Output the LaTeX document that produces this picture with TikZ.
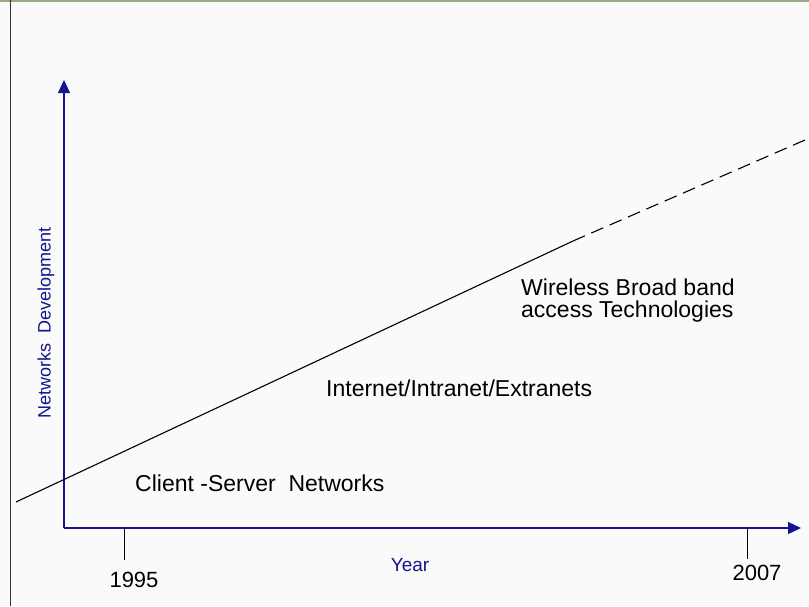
\documentclass[tikz,border=0pt]{standalone}
\usepackage{fontspec}
\setmainfont{Liberation Sans}
\usetikzlibrary{arrows.meta}
\definecolor{axisblue}{RGB}{20,20,140}
\definecolor{bg}{RGB}{250,250,250}
\definecolor{topline}{RGB}{150,170,130}
\tikzset{
  axis/.style={axisblue, line width=1.2pt, -{Triangle[length=13pt,width=12pt]}},
  tick/.style={black, line width=0.9pt},
  lbl/.style={font=\fontsize{23}{26}\selectfont, inner sep=0pt, anchor=west},
  yr/.style={font=\fontsize{22}{24}\selectfont, inner sep=0pt},
  bluelbl/.style={axisblue, font=\fontsize{18}{20}\selectfont, inner sep=0pt},
  trend/.style={black, line width=1.1pt},
}
\begin{document}
\begin{tikzpicture}[x=1pt,y=-1pt]
\useasboundingbox (0,0) rectangle (809,606);
\fill[bg] (0,0) rectangle (809,606);
\draw[topline, line width=1.5pt] (0,1) -- (809,1);
\draw[black!80, line width=1.5pt] (10.5,0) -- (10.5,606);
% axes
\coordinate (O) at (64,528);
\coordinate (ytop) at (64,80);
\coordinate (xend) at (801,528);
\draw[axis] (O) -- (ytop);
\draw[axis] (O) -- (xend);
% ticks
\coordinate (t1a) at (124,528); \coordinate (t1b) at (124,560);
\coordinate (t2a) at (747,528); \coordinate (t2b) at (747,559);
\draw[tick] (t1a) -- (t1b);
\draw[tick] (t2a) -- (t2b);
\node[yr] (y1995) at (134,580) {1995};
\node[yr] (y2007) at (757,573) {2007};
% trend line
\coordinate (s) at (16,502);
\coordinate (m) at (573,241);
\coordinate (e) at (805,140);
\draw[trend] (s) -- (m);
\draw[trend, dash pattern=on 13pt off 7pt] (m) -- (e);
% labels
\node[lbl] (cs) at (135,483) {Client -Server\ \ Networks};
\node[lbl] (ie) at (326,388) {Internet/Intranet/Extranets};
\node[lbl] (w1) at (521,287) {Wireless Broad band};
\node[lbl] (w2) at (521,312) {access Technologies};
\node[bluelbl, font=\fontsize{19}{21}\selectfont] (year) at (410,565) {Year};
\node[bluelbl, rotate=90] (nd) at (46,323) {Networks\ \ Development};
\end{tikzpicture}
\end{document}
